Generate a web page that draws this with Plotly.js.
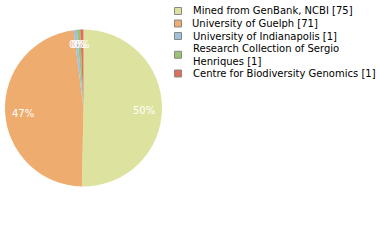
<!DOCTYPE html>
<html><head><meta charset="utf-8">
<script src="https://cdn.plot.ly/plotly-3.0.1.min.js"></script>
<style>html,body{margin:0;padding:0;background:#fff;}#chart{width:380px;height:240px;}</style>
</head><body><div id="chart"></div>
<script>
const labels = ["Mined from GenBank, NCBI [75]", "University of Guelph [71]", "University of Indianapolis [1]", "Research Collection of Sergio<br>Henriques [1]", "Centre for Biodiversity Genomics [1]"];
const values = [75, 71, 1, 1, 1];
const percentText = ["50%", "47%", "0%", "0%", "0%"];
const colors = ["#dde39e", "#efac6f", "#9fbfdf", "#9ac46d", "#df6e5a"];

const W = 380, H = 240;
const pieBox = {x0: 5, x1: 162, y0: 29, y1: 187}; // pixel box of the pie
const cx = (pieBox.x0 + pieBox.x1) / 2, cy = (pieBox.y0 + pieBox.y1) / 2;
const R = Math.min(pieBox.x1 - pieBox.x0, pieBox.y1 - pieBox.y0) / 2;

const annotations = [];
const shapes = [];
// percent labels placed at slice mid-angles (clockwise from 12 o'clock)
const total = values.reduce((a, b) => a + b, 0);
let acc = 0;
values.forEach((v, i) => {
  const mid = (acc + v / 2) / total * 2 * Math.PI;
  acc += v;
  const f = v / total < 0.05 ? 0.84 : 0.77;
  const px = cx + R * f * Math.sin(mid);
  const py = cy - R * f * Math.cos(mid) + 2;
  annotations.push({
    xref: 'paper', yref: 'paper', x: px / W, y: 1 - py / H,
    xanchor: 'center', yanchor: 'middle', showarrow: false,
    text: percentText[i],
    font: {family: 'DejaVu Sans', size: 10, color: '#ffffff'}
  });
});

// legend (drawn as annotations + swatches)
const lineH = 12.5;
let rowTop = 4.75;
labels.forEach((lab, i) => {
  const lines = lab.split('<br>').length;
  const centre = rowTop + lines * lineH / 2;
  rowTop += lines * lineH;
  annotations.push({
    xref: 'paper', yref: 'paper', x: 190.5 / W, y: 1 - centre / H,
    xanchor: 'left', yanchor: 'middle', align: 'left', showarrow: false,
    text: lab,
    font: {family: 'DejaVu Sans', size: 10, color: '#000000'}
  });
  shapes.push({
    type: 'rect', xref: 'paper', yref: 'paper',
    x0: 174.5 / W, x1: 181.5 / W, y0: 1 - (centre + 3.5) / H, y1: 1 - (centre - 3.5) / H,
    fillcolor: colors[i], line: {color: '#888888', width: 1}
  });
});

Plotly.newPlot('chart', [{
  type: 'pie',
  labels: labels,
  values: values,
  textinfo: 'none',
  sort: false,
  direction: 'clockwise',
  rotation: 0,
  marker: {colors: colors, line: {width: 0}},
  domain: {x: [pieBox.x0 / W, pieBox.x1 / W], y: [1 - pieBox.y1 / H, 1 - pieBox.y0 / H]},
  hoverinfo: 'none'
}], {
  width: W, height: H,
  margin: {l: 0, r: 0, t: 0, b: 0},
  paper_bgcolor: '#ffffff',
  showlegend: false,
  annotations: annotations,
  shapes: shapes
}, {staticPlot: true});
</script></body></html>
